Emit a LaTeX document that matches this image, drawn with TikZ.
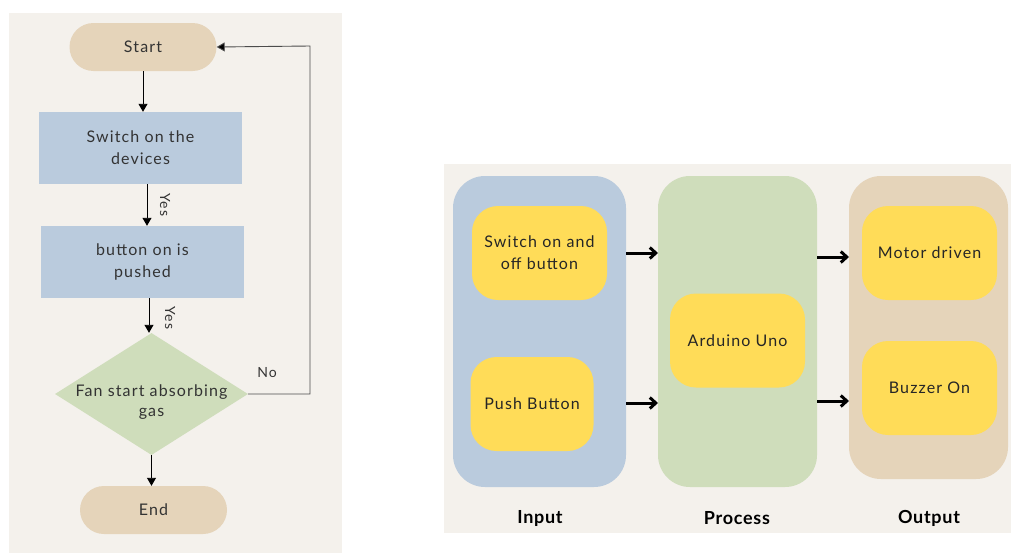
\documentclass[tikz,border=0pt]{standalone}
\usepackage{fontspec}
\setmainfont{Lato}[LetterSpace=7]
\newfontfamily\lblfont{Lato}[LetterSpace=4]
\usetikzlibrary{arrows.meta,shapes.geometric}
\definecolor{panel}{HTML}{F4F1EC}
\definecolor{tan}{HTML}{E5D4BA}
\definecolor{bluebox}{HTML}{BACBDD}
\definecolor{greenbox}{HTML}{CFDDBB}
\definecolor{yell}{HTML}{FFDC58}
\definecolor{txt}{HTML}{333333}
\begin{document}
\begin{tikzpicture}[x=1pt,y=-1pt,
  every node/.style={font=\fontsize{16}{22}\selectfont, text=txt},
  pill/.style={fill=tan, rounded corners=24pt, minimum width=147pt, minimum height=48pt, inner sep=0pt},
  stepbox/.style={fill=bluebox, minimum width=203pt, minimum height=72pt, inner sep=0pt, align=center},
  dec/.style={fill=greenbox, diamond, aspect=1.58, minimum width=193pt, minimum height=122pt, inner sep=0pt},
  flow/.style={draw=black, line width=0.9pt, -{Triangle[length=8pt,width=9pt]}},
  loop/.style={draw=black!70, line width=0.9pt, -{Triangle[length=8pt,width=9pt,fill=black]}},
  group/.style={rounded corners=32pt, inner sep=0pt},
  ybox/.style={fill=yell, rounded corners=26pt, minimum width=135pt, minimum height=94pt, inner sep=0pt, align=center, text=black!85},
  big/.style={draw=black, line width=3pt, -{Straight Barb[length=6pt,width=11pt]}},
  lbl/.style={font=\lblfont\fontsize{18}{21}\selectfont\bfseries, text=black},
  yes/.style={font=\fontsize{14}{16}\selectfont, rotate=-90}
]
\useasboundingbox (0,0) rectangle (1011,557);
\fill[white] (0,0) rectangle (1011,557);
% panels
\fill[panel] (9,13) rectangle (342,553);
\fill[panel] (444,164) rectangle (1011,533);

% flowchart
\node[pill] (start) at (143,47) {Start};
\node[stepbox] (s1) at (140.5,148) {Switch on the\\devices};
\node[stepbox] (s2) at (142.5,262) {button on is\\pushed};
\node[dec, label={[align=center, font=\fontsize{16}{20}\selectfont, text=txt, yshift=-8pt]center:Fan start absorbing\\gas}] (d) at (151.5,394) {};
\node[pill] (end) at (153.5,510) {End};
\coordinate (c1) at (310,394);
\coordinate (c2) at (310,46);

\draw[flow] (start.south) -- (start.south |- s1.north);
\draw[flow] ([xshift=6.5pt]s1.south) -- ([xshift=4.5pt]s2.north);
\draw[flow] ([xshift=6.5pt]s2.south) -- ([xshift=-2.5pt]d.north);
\draw[flow] (d.south) -- (d.south |- end.north);
\draw[loop] (d.east) -- (c1) -- (c2) -- (start.east);
\node[yes] (y1) at (165,205) {Yes};
\node[yes] (y2) at (170,318) {Yes};
\node[font=\fontsize{14}{16}\selectfont] (no) at (267,373) {No};

% block diagram
\fill[bluebox, group] (453,176) rectangle (626,487);
\fill[greenbox, group] (658,176) rectangle (817,487);
\fill[tan, group] (849,176) rectangle (1008,479);
\node[ybox] (sw) at (539.5,253) {Switch on and\\off button};
\node[ybox, minimum width=123pt] (pb) at (532,404) {Push Button};
\node[ybox] (ard) at (737.5,340.5) {Arduino Uno};
\node[ybox] (mot) at (929.5,253) {Motor driven};
\node[ybox] (buz) at (929.5,388) {Buzzer On};
\coordinate (i1) at (626,253);
\coordinate (p1) at (658,253);
\coordinate (i2) at (626,403);
\coordinate (p2) at (658,403);
\coordinate (o1a) at (817,257);
\coordinate (o1b) at (849,257);
\coordinate (o2a) at (817,401);
\coordinate (o2b) at (849,401);
\draw[big] (i1) -- (p1);
\draw[big] (i2) -- (p2);
\draw[big] (o1a) -- (o1b);
\draw[big] (o2a) -- (o2b);
\node[lbl] (in) at (540,518) {Input};
\node[lbl] (pr) at (737,518) {Process};
\node[lbl] (out) at (929,518) {Output};
\end{tikzpicture}
\end{document}
